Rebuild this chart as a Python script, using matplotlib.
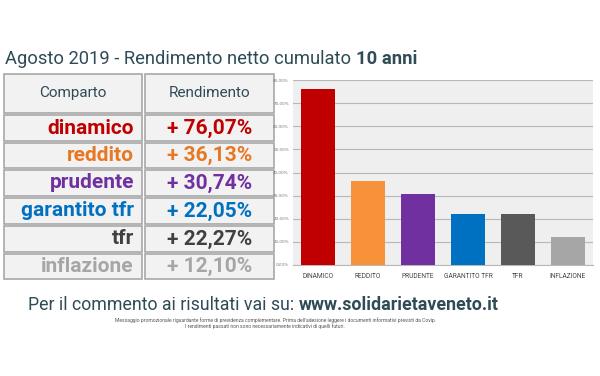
import matplotlib
matplotlib.use("Agg")
import matplotlib.pyplot as plt
from matplotlib.patches import Rectangle
from matplotlib.ticker import FuncFormatter

# data
comparti = ["dinamico", "reddito", "prudente", "garantito tfr", "tfr", "inflazione"]
rendimenti = [76.07, 36.13, 30.74, 22.05, 22.27, 12.10]
bar_colors = ["#c00000", "#f7923a", "#7030a0", "#0070c0", "#595959", "#a6a6a6"]
text_colors = ["#c00000", "#e87722", "#7030a0", "#0070c0", "#404040", "#a6a6a6"]

W, H = 600, 376
FONT = ["Roboto", "DejaVu Sans"]
DARK = "#2f4b56"

fig = plt.figure(figsize=(W / 100, H / 100), dpi=100)
bg = fig.add_axes([0, 0, 1, 1])
bg.set_xlim(0, W)
bg.set_ylim(H, 0)
bg.axis("off")
renderer = fig.canvas.get_renderer()


def width_px(txt):
    fig.canvas.draw()
    bb = txt.get_window_extent(renderer=renderer)
    return bb.width


def two_part(x, y, a, b, size, center=None):
    # plain text followed by a bold part; optionally centred as a whole
    t1 = bg.text(x, y, a, fontsize=size, family=FONT, color=DARK, va="baseline")
    t2 = bg.text(x, y, b, fontsize=size, family=FONT, weight="bold", color=DARK,
                 va="baseline")
    w1, w2 = width_px(t1), width_px(t2)
    if center is not None:
        x = center - (w1 + w2) / 2
        t1.set_x(x)
    t2.set_x(x + w1)


# title
two_part(5, 64, "Agosto 2019 - Rendimento netto cumulato ", "10 anni", 13.2)

# table
cols = [(4, 142), (145, 274)]
rows_y = [73, 114, 142, 169, 197, 225, 253, 280]
for (x0, x1) in cols:
    for i in range(len(rows_y) - 1):
        y0, y1 = rows_y[i] + 1, rows_y[i + 1] - 1
        bg.add_patch(Rectangle((x0, y0), x1 - x0, y1 - y0, facecolor="#f2f2f2",
                               edgecolor="#a8a8a8", lw=1.2))
bg.text((cols[0][0] + cols[0][1]) / 2, 93, "Comparto", fontsize=11, family=FONT,
        color=DARK, ha="center", va="center")
bg.text((cols[1][0] + cols[1][1]) / 2, 93, "Rendimento", fontsize=11, family=FONT,
        color=DARK, ha="center", va="center")
for i, (name, val, c) in enumerate(zip(comparti, rendimenti, text_colors)):
    yc = (rows_y[i + 1] + rows_y[i + 2]) / 2
    bg.text(cols[0][1] - 8, yc, name, fontsize=15, family=FONT, weight="bold",
            color=c, ha="right", va="center")
    lab = "+ " + f"{val:.2f}".replace(".", ",") + "%"
    bg.text((cols[1][0] + cols[1][1]) / 2, yc, lab, fontsize=15, family=FONT,
            weight="bold", color=c, ha="center", va="center")

# footer
two_part(33, 310, "Per il commento ai risultati vai su: ", "www.solidarietaveneto.it",
         12.8, center=263)
bg.text(276, 320, "Messaggio promozionale riguardante forme di previdenza complementare. "
        "Prima dell'adesione leggere i documenti informativi previsti da Covip.",
        fontsize=3.6, family=FONT, color="#555555", ha="center", va="center")
bg.text(265, 326, "I rendimenti passati non sono necessariamente indicativi di quelli futuri.",
        fontsize=3.6, family=FONT, color="#555555", ha="center", va="center")

# bar chart
ax = fig.add_axes([293 / W, 1 - 265 / H, 300 / W, 185 / H])
ax.set_facecolor("#efefef")
x = range(len(comparti))
ax.bar(x, rendimenti, width=0.68, color=bar_colors, zorder=3)
ax.set_xlim(-0.5, len(comparti) - 0.5)
ax.set_ylim(0, 80)
ax.set_yticks(range(0, 81, 10))
ax.yaxis.set_major_formatter(FuncFormatter(lambda v, p: f"{v:.2f}".replace(".", ",") + "%"))
ax.grid(axis="y", color="#b8b8b8", lw=0.8, zorder=1)
ax.set_xticks(list(x))
ax.set_xticklabels([c.upper() for c in comparti], fontsize=4.8, family=FONT, color="#444444")
for lbl in ax.get_yticklabels():
    lbl.set_fontsize(3)
    lbl.set_color("#777777")
ax.tick_params(length=0, pad=3)
ax.tick_params(axis="x", pad=6)
for s in ["top", "right", "left"]:
    ax.spines[s].set_visible(False)
ax.spines["bottom"].set_color("#b8b8b8")

fig.savefig("out.png", dpi=100, facecolor="white")
